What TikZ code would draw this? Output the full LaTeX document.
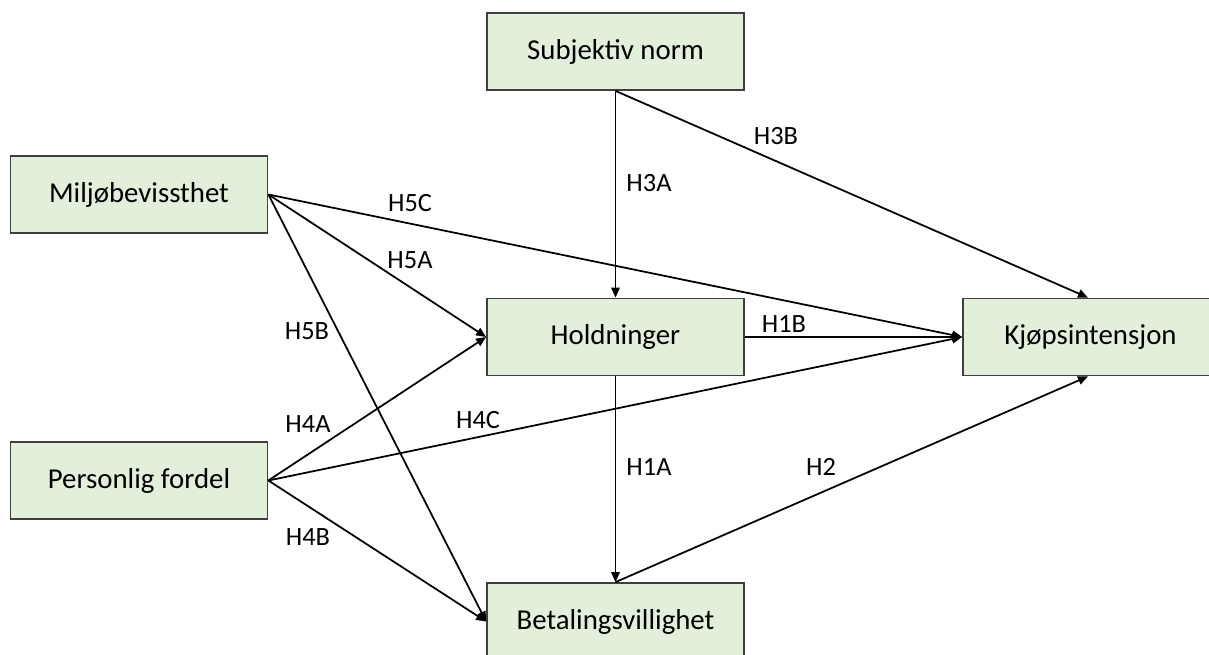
\documentclass[tikz,border=0pt]{standalone}
\usepackage{fontspec}
\setmainfont{Carlito}
\usepackage{tikz}
\usetikzlibrary{arrows.meta}
\definecolor{boxfill}{HTML}{E2EFDA}
\definecolor{boxline}{HTML}{3F3F3F}

\begin{document}
\begin{tikzpicture}[
    box/.style={draw=boxline, fill=boxfill, line width=1pt, minimum width=5.14cm, minimum height=1.54cm, inner sep=0pt, font=\fontsize{16.4pt}{19pt}\selectfont},
    lbl/.style={inner sep=0pt, font=\fontsize{15pt}{18pt}\selectfont},
    arr/.style={-{Triangle[length=2mm, width=1.7mm]}, line width=1pt}]
    \useasboundingbox (0,0) rectangle (24.18,13.1);

    % Constructs
    \node[box] (subj) at (12.31, 12.07) {Subjektiv norm};
    \node[box] (miljo) at (2.78, 9.21) {Miljøbevissthet};
    \node[box] (hold) at (12.31, 6.36) {Holdninger};
    \node[box, minimum width=5.4cm] (kjop) at (21.96, 6.36) {\hspace*{-3mm}Kjøpsintensjon};
    \node[box] (pers) at (2.78, 3.49) {Personlig fordel};
    \node[box] (betal) at (12.31, 0.67) {Betalingsvillighet};

    % Paths
    \draw[arr] (subj.south) -- (hold.north);
    \draw[arr] (subj.south) -- ([xshift=-2mm]kjop.north);
    \draw[arr] (miljo.east) -- (kjop.west);
    \draw[arr] (miljo.east) -- (hold.west);
    \draw[arr] (miljo.east) -- (betal.west);
    \draw[arr] (hold.east) -- (kjop.west);
    \draw[arr] (hold.south) -- (betal.north);
    \draw[arr] (betal.north) -- ([xshift=-2mm]kjop.south);
    \draw[arr] (pers.east) -- (hold.west);
    \draw[arr] (pers.east) -- (kjop.west);
    \draw[arr] (pers.east) -- (betal.west);

    % Hypotheses
    \node[lbl] (h3b) at (15.52, 10.38) {H3B};
    \node[lbl] (h3a) at (12.98, 9.44) {H3A};
    \node[lbl] (h5c) at (8.2, 9.04) {H5C};
    \node[lbl] (h5a) at (8.2, 7.9) {H5A};
    \node[lbl] (h5b) at (6.14, 6.48) {H5B};
    \node[lbl] (h1b) at (15.68, 6.62) {H1B};
    \node[lbl] (h4a) at (6.16, 4.62) {H4A};
    \node[lbl] (h4c) at (9.56, 4.7) {H4C};
    \node[lbl] (h1a) at (12.98, 3.76) {H1A};
    \node[lbl] (h2) at (16.42, 3.76) {H2};
    \node[lbl] (h4b) at (6.16, 2.36) {H4B};
\end{tikzpicture}
\end{document}
